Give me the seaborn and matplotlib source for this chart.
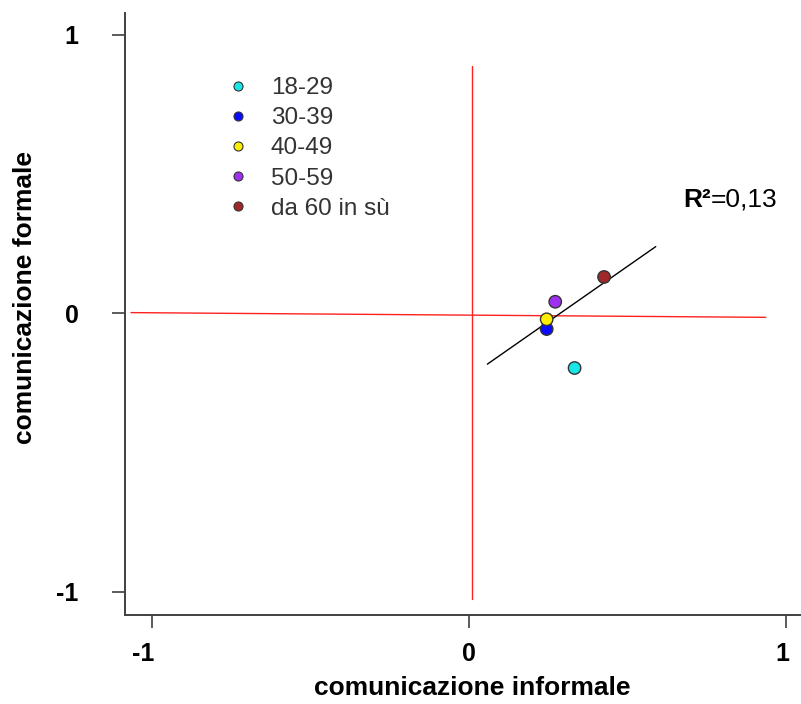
import matplotlib
matplotlib.use("Agg")
import matplotlib.pyplot as plt
import matplotlib.transforms as mtrans
from matplotlib.lines import Line2D
import seaborn as sns
import pandas as pd

# ---- data ----
groups = ["18-29", "30-39", "40-49", "50-59", "da 60 in sù"]
informale = [0.333, 0.245, 0.245, 0.272, 0.426]
formale = [-0.196, -0.056, -0.021, 0.042, 0.131]
colors = ["#19e6e6", "#0a0aff", "#ffee00", "#a030f0", "#a02828"]

fit_x = [0.058, 0.589]
fit_y = [-0.182, 0.240]
r2_text = "=0,13"

vline_x = [0.011, 0.011]
vline_y = [0.890, -1.024]
hline_x = [-1.066, 0.936]
hline_y = [0.003, -0.014]

xticks = [-1, 0, 1]
yticks = [-1, 0, 1]
xlim = (-1.085, 1.044)
ylim = (-1.083, 1.079)

df = pd.DataFrame({"gruppo": groups, "informale": informale, "formale": formale})

sns.set_style("white")
plt.rcParams["font.family"] = ["Liberation Sans", "DejaVu Sans"]

fig = plt.figure(figsize=(8.01, 7.04), dpi=100)
ax = fig.add_axes([125 / 801, (704 - 615) / 704, 675 / 801, 602 / 704])

# reference lines
ax.plot(hline_x, hline_y, color="#ff2020", lw=1.0, zorder=1)
ax.plot(vline_x, vline_y, color="#ff2020", lw=1.0, zorder=1)
# fitted line
ax.plot(fit_x, fit_y, color="black", lw=1.0, zorder=2)

sns.scatterplot(data=df, x="informale", y="formale", hue="gruppo",
                palette=colors, hue_order=groups, s=80, edgecolor="#333333",
                linewidth=1.0, legend=False, ax=ax, zorder=3)

ax.set_xlim(*xlim)
ax.set_ylim(*ylim)
ax.set_xticks(xticks)
ax.set_yticks(yticks)
ax.set_xticklabels([str(t) for t in xticks], fontweight="bold", fontsize=18)
ax.set_yticklabels([str(t) for t in yticks], fontweight="bold", fontsize=18)
ax.tick_params(axis="both", direction="out", length=9.5, width=1.2,
               color="#404040", labelcolor="black", bottom=True, left=True)
ax.tick_params(axis="x", pad=10)
ax.tick_params(axis="y", pad=24)

# shift x tick labels slightly left (as in the reference)
shifts = [-9, 0, -4]
for lab, dx in zip(ax.get_xticklabels(), shifts):
    lab.set_transform(lab.get_transform() + mtrans.ScaledTranslation(dx / 100, 0, fig.dpi_scale_trans))

for side in ["top", "right"]:
    ax.spines[side].set_visible(False)
for side in ["left", "bottom"]:
    ax.spines[side].set_color("#404040")
    ax.spines[side].set_linewidth(1.4)

ax.set_xlabel("comunicazione informale", fontsize=19, fontweight="bold", labelpad=7,
              color="black")
ax.set_ylabel("comunicazione formale", fontsize=19, fontweight="bold", labelpad=14,
              color="black")
ax.xaxis.label.set_x(0.514)
ax.yaxis.label.set_y(0.527)

# R² annotation
t = ax.text(0.675, 0.408, "R²", fontsize=19, fontweight="bold", ha="left", va="center",
            color="black")
ax.annotate(r2_text, xy=(1, 0), xycoords=t, fontsize=19, ha="left", va="bottom",
            color="black")

handles = [Line2D([0], [0], marker="o", linestyle="none", markersize=6.5,
                  markerfacecolor=c, markeredgecolor="#333333", markeredgewidth=0.8)
           for c in colors]
leg = ax.legend(handles, groups, loc="upper left", bbox_to_anchor=(0.1496, 0.893),
                frameon=False, fontsize=17.5, handlelength=1.0, handletextpad=0.85,
                labelspacing=0.33, borderpad=0, borderaxespad=0)
for txt in leg.get_texts():
    txt.set_color("#333333")

fig.savefig("out.png", dpi=100)
